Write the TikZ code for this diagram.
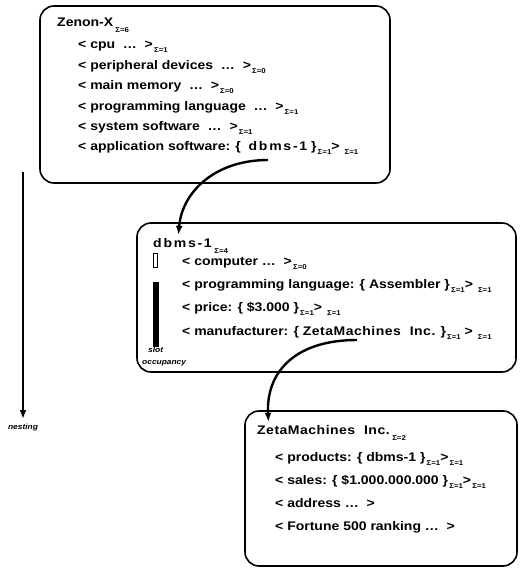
\documentclass[tikz,border=0pt]{standalone}
\usepackage{fontspec}
\setmainfont{Liberation Sans}[FakeStretch=1.12]
\newfontfamily\widefont{Liberation Sans}[FakeStretch=1.12, LetterSpace=14]
\newfontfamily\namefont{Liberation Sans}[FakeStretch=1.12, LetterSpace=4]
\usetikzlibrary{arrows.meta}
\newcommand{\sg}[1]{\raisebox{-4pt}{\fontsize{7}{8}\selectfont\,Σ=#1}}
\newcommand{\sgt}[1]{\raisebox{-6pt}{\fontsize{7}{8}\selectfont\ Σ=#1}}

\begin{document}
\begin{tikzpicture}[x=1pt, y=-1pt,
    txt/.style={anchor=base west, inner sep=0pt, font=\bfseries\fontsize{12.5}{14}\selectfont},
    frame/.style={line width=1.6pt, rounded corners=14pt},
    link/.style={line width=2.4pt, -{Latex[length=9pt,width=7pt]}},
    note/.style={inner sep=0pt, font=\bfseries\itshape\fontsize{7.5}{8}\selectfont}]

    \useasboundingbox (0,0) rectangle (519,569);

    % Zenon-X
    \draw[frame] (40,6) rectangle (390,183);
    \node[txt] (zenon) at (57,27) {Zenon-X\sgt{6}};
    \foreach \t [count=\i] in {
        {< cpu\ \ \ldots\ \ >\sg{1}},
        {< peripheral devices\ \ \ldots\ \ >\sg{0}},
        {< main memory\ \ \ldots\ \ >\sg{0}},
        {< programming language\ \ \ldots\ \ >\sg{1}},
        {< system software\ \ \ldots\ \ >\sg{1}},
        {< application software: \{\ \ {\widefont dbms-1} \}\sg{1}> \sg{1}}}
        \node[txt] (z\i) at (78,28.6+20.4*\i) {\t};

    % dbms-1
    \draw[frame] (137,223) rectangle (516,372);
    \node[txt] (dbms) at (153,247) {\widefont dbms-1};
    \node[txt] (dbmssub) at (dbms.base east) {\sgt{4}};
    \foreach \t [count=\i] in {
        {< computer \ldots\ \ >\sg{0}},
        {< programming language: \{ Assembler \}\sg{1}> \sg{1}},
        {< price: \{ \$3.000 \}\sg{1}> \sg{1}},
        {< manufacturer: \{ {\namefont ZetaMachines\ \ Inc.} \}\sg{1} > \sg{1}}}
        \node[txt] (d\i) at (182,242+23.3*\i) {\t};

    % slot occupancy
    \draw[line width=1pt] (153.5,253) rectangle (157.5,267);
    \fill (153,282) rectangle (159,347);
    \node[note, anchor=base west] (slot) at (148,352) {slot};
    \node[note, anchor=base west] (occ) at (142,364) {occupancy};

    % ZetaMachines Inc.
    \draw[frame] (245,411) rectangle (517,566);
    \node[txt] (zeta) at (257,434) {\namefont ZetaMachines\ \ Inc.};
    \node[txt] (zetasub) at (zeta.base east) {\sgt{2}};
    \foreach \t [count=\i] in {
        {< products: \{ dbms-1 \}\sg{1}>\sg{1}},
        {< sales: \{ \$1.000.000.000 \}\sg{1}>\sg{1}},
        {< address \ldots\ \ >},
        {< Fortune 500 ranking \ldots\ \ >}}
        \node[txt] (m\i) at (275,438+23*\i) {\t};

    % links
    \coordinate (app) at (268,160);
    \coordinate (man) at (357,340);
    \draw[link] (app) .. controls (215,160) and (182,192) .. ([xshift=-4pt,yshift=3pt]dbms.north);
    \draw[link] (man) .. controls (295,340) and (266,372) .. ([xshift=-55pt,yshift=3pt]zeta.north);

    % nesting
    \coordinate (nesttop) at (23,172);
    \node[note, anchor=north] (nest) at (23,424) {nesting};
    \draw[link, line width=2pt, shorten >=5pt] (nesttop) -- (nest.north);
\end{tikzpicture}
\end{document}
